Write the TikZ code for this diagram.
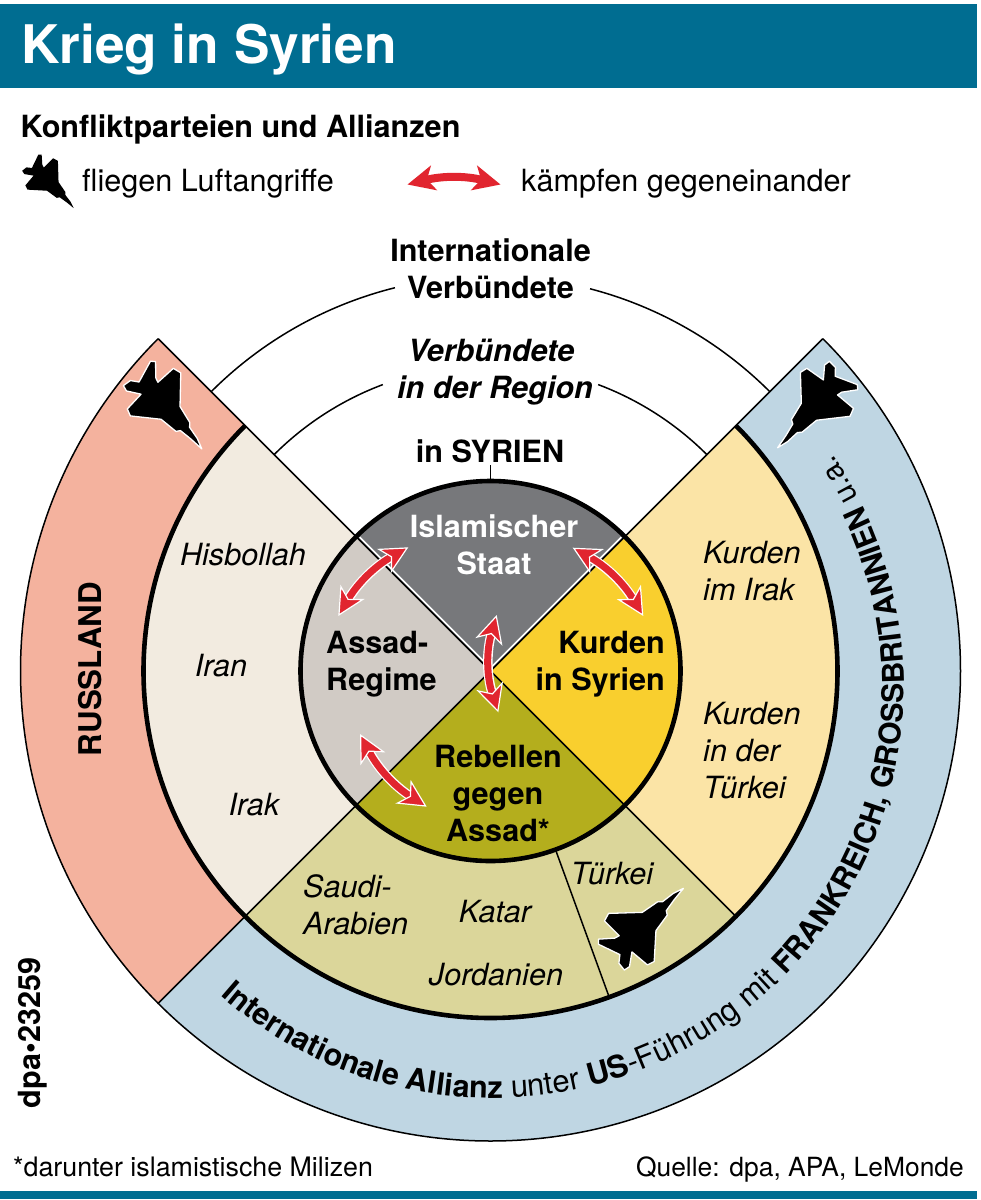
\documentclass[tikz,border=0pt]{standalone}
\usepackage{fontspec}
\setmainfont{TeX Gyre Heros}
\usetikzlibrary{arrows.meta,decorations.text}
\definecolor{teal}{HTML}{006D91}
\definecolor{salmon}{HTML}{F4B29E}
\definecolor{beige}{HTML}{F2EBE0}
\definecolor{paleyellow}{HTML}{FBE4A6}
\definecolor{khaki}{HTML}{DBD69A}
\definecolor{skyblue}{HTML}{BFD6E3}
\definecolor{isgray}{HTML}{77787B}
\definecolor{taupe}{HTML}{D1CBC5}
\definecolor{kurdyellow}{HTML}{F9CF2E}
\definecolor{olive}{HTML}{B4AE1D}
\definecolor{fightred}{HTML}{E1252F}
\tikzset{
  x=1pt,y=1pt,
  lab/.style={inner sep=0pt,align=center,font=\fontsize{30.6}{37}\selectfont},
  blab/.style={lab,font=\fontsize{30.6}{37}\selectfont\bfseries},
  ilab/.style={lab,font=\fontsize{30.6}{37}\selectfont\itshape},
  bilab/.style={lab,font=\fontsize{30.6}{37}\selectfont\bfseries\itshape},
  foot/.style={lab,font=\fontsize{26.8}{32}\selectfont},
  thin line/.style={draw=black,line width=1.5pt},
  thick line/.style={draw=black,line width=4.6pt},
  fight/.style={line width=7pt,draw=fightred,
    {Stealth[length=28pt,width=28pt,inset=8pt,fill=fightred,color=white,line width=1.2pt]}-{Stealth[length=28pt,width=28pt,inset=8pt,fill=fightred,color=white,line width=1.2pt]},
    preaction={draw=white,line width=9.6pt,arrows=-,shorten >=18pt,shorten <=18pt}},
  jet/.pic={
    \path[pic actions] (41.7,38) -- (31.7,33) -- (21.3,25) -- (16.7,25) -- (1.7,14.7) -- (-31,13.7)
      -- (-35,6.3) -- (-20.7,-8) -- (-25,-10.3) -- (-40.7,-11.3) -- (-40.7,-16.3) -- (-20,-26.3)
      -- (-21,-34.7) -- (-15.7,-41.3) -- (-10.7,-38) -- (-8.3,-23.7) -- (6.7,-36.3) -- (13.3,-33)
      -- (15,-3) -- (26,12) -- (25,16.3) -- (32.7,27) -- cycle;
  },
  jetstyle/.style={fill=black,draw=white,line width=1.3pt,line join=round}
}
\begin{document}
\begin{tikzpicture}
\useasboundingbox (0,0) rectangle (981,-1200);
\fill[white] (0,0) rectangle (981,-1200);
% bars
\fill[teal] (0,-4) rectangle (977,-88);
\fill[teal] (0,-1190.5) rectangle (977,-1199);
\node[anchor=base west,inner sep=0pt,text=white,font=\fontsize{53.2}{60}\selectfont\bfseries] (title) at (21,-63) {Krieg in Syrien};
\node[blab,anchor=base west] (subtitle) at (20.5,-137) {Konfliktparteien und Allianzen};
\node[lab,anchor=base west] (legjet) at (82,-191) {fliegen Luftangriffe};
\node[lab,anchor=base west] (legfight) at (521,-191) {kämpfen gegeneinander};
\pic[fill=black,scale=.65,rotate=-90] at (49,-181) {jet};
\coordinate (lf1) at (407.5,-184.5);
\coordinate (lf2) at (500.5,-184.5);
\draw[line width=8pt,draw=fightred,{Stealth[length=27pt,width=25pt,inset=7pt,fill=fightred,color=fightred]}-{Stealth[length=27pt,width=25pt,inset=7pt,fill=fightred,color=fightred]}] (lf1) to[bend left=14] (lf2);
% rings
\begin{scope}[shift={(490.5,-671)}]
  \fill[salmon] (135:470) arc[start angle=135,end angle=225,radius=470] -- (225:347) arc[start angle=225,end angle=135,radius=347] -- cycle;
  \fill[skyblue] (225:470) arc[start angle=225,end angle=405,radius=470] -- (45:347) arc[start angle=405,end angle=225,radius=347] -- cycle;
  \fill[beige] (0,0) -- (135:347) arc[start angle=135,end angle=225,radius=347] -- cycle;
  \fill[khaki] (0,0) -- (225:347) arc[start angle=225,end angle=315,radius=347] -- cycle;
  \fill[paleyellow] (0,0) -- (-45:347) arc[start angle=-45,end angle=45,radius=347] -- cycle;
  \fill[isgray] (0,0) -- (45:190) arc[start angle=45,end angle=135,radius=190] -- cycle;
  \fill[taupe] (0,0) -- (135:190) arc[start angle=135,end angle=225,radius=190] -- cycle;
  \fill[olive] (0,0) -- (225:190) arc[start angle=225,end angle=315,radius=190] -- cycle;
  \fill[kurdyellow] (0,0) -- (-45:190) arc[start angle=-45,end angle=45,radius=190] -- cycle;
  % white inline of the grey sector
  \draw[white,line width=1.6pt] (0,3) -- ++(135:185);
  \draw[white,line width=1.6pt] (0,3) -- ++(45:185);
  % radial lines
  \draw[thin line] (0,0) -- (135:470);
  \draw[thin line] (0,0) -- (45:470);
  \draw[thin line] (0,0) -- (225:470);
  \draw[thin line] (0,0) -- (-45:347);
  \draw[thin line] (-70:190) -- (-70:347);
  % outer and linking arcs
  \draw[thin line] (135:470) arc[start angle=135,end angle=225,radius=470] arc[start angle=225,end angle=405,radius=470];
  \draw[thin line] (135:395) arc[start angle=135,end angle=104,radius=395];
  \draw[thin line] (45:395) arc[start angle=45,end angle=75.4,radius=395];
  \draw[thin line] (135:306) arc[start angle=135,end angle=110.6,radius=306];
  \draw[thin line] (45:306) arc[start angle=45,end angle=69.4,radius=306];
  \draw[thick line] (135:347) arc[start angle=135,end angle=405,radius=347];
  \draw[thick line] (0,0) circle[radius=190];
  \draw[line width=1.3pt] (90:190) -- (90:206);
\end{scope}
% curved text
\begin{scope}[shift={(492,-686)}]
  \path[decorate,decoration={text along path,text align=left,
    text={|\fontsize{30.6}{36}\selectfont\bfseries|Internationale Allianz|\fontsize{31}{36}\selectfont\mdseries| unter |\fontsize{31}{36}\selectfont\bfseries|US|\fontsize{31}{36}\selectfont\mdseries|-Führung mit |\fontsize{30}{36}\selectfont\bfseries|FRANKREICH, GROSSBRITANNIEN|\fontsize{30}{36}\selectfont\mdseries| u.a.}}]
    (228.7:412) arc[start angle=228.7,end angle=410,radius=412];
\end{scope}
% jets
\pic[jetstyle,scale=1.03] at (640.5,-927.5) {jet};
\pic[jetstyle,rotate=-93,scale=1.03] at (165,-404) {jet};
\pic[jetstyle,rotate=185,scale=1.03] at (817,-405) {jet};
% labels
\node[blab] (ivb) at (490.5,-269) {Internationale\\Verbündete};
\node[bilab] (vir) at (495,-372) {Verbündete\hspace*{8pt}\\in der Region};
\node[blab] (syr) at (490,-451) {in SYRIEN};
\node[blab,text=white] (is) at (494,-545) {Islamischer\\Staat};
\node[blab,align=left,anchor=west] (assad) at (326,-664.5) {Assad-\\Regime};
\node[blab,align=right,anchor=east] (kurd) at (665,-664.5) {Kurden\\in Syrien};
\node[blab] (reb) at (498,-793) {Rebellen\\gegen\\Assad*};
\node[ilab] (his) at (243,-555) {Hisbollah};
\node[ilab] (ira) at (221,-666) {Iran};
\node[ilab] (irk) at (254,-805) {Irak};
\node[ilab,align=left,anchor=west] (kir) at (703,-571) {Kurden\\im Irak};
\node[ilab,align=left,anchor=west] (ktu) at (703,-751) {Kurden\\in der\\Türkei};
\node[ilab,align=left,anchor=west] (sau) at (303,-904.5) {Saudi-\\Arabien};
\node[ilab] (kat) at (495,-911.5) {Katar};
\node[ilab] (jor) at (496,-975) {Jordanien};
\node[ilab] (tur) at (612,-874) {Türkei};
\node[blab,rotate=90,font=\fontsize{31.3}{37}\selectfont\bfseries] (rus) at (90,-669) {RUSSLAND};
\node[blab,rotate=90] (dpa) at (33,-1033) {dpa•23259};
\node[foot,anchor=base west] (fn) at (13,-1176) {*darunter islamistische Milizen};
\node[foot,anchor=base east,font=\fontsize{26.4}{32}\selectfont] (src) at (964,-1176) {Quelle: dpa, APA, LeMonde};
% fight arrows
\coordinate (a1) at (408.3,-547.3);
\coordinate (a2) at (338.3,-616);
\coordinate (b1) at (572.7,-547.7);
\coordinate (b2) at (643.3,-616);
\coordinate (c1) at (496.7,-615);
\coordinate (c2) at (498.3,-712.3);
\coordinate (d1) at (360,-734);
\coordinate (d2) at (426.7,-806.7);
\draw[fight] (a1) to[bend right=15] (a2);
\draw[fight] (b1) to[bend left=15] (b2);
\draw[fight] (c1) to[bend right=17] (c2);
\draw[fight] (d1) to[bend right=15] (d2);
\end{tikzpicture}
\end{document}
